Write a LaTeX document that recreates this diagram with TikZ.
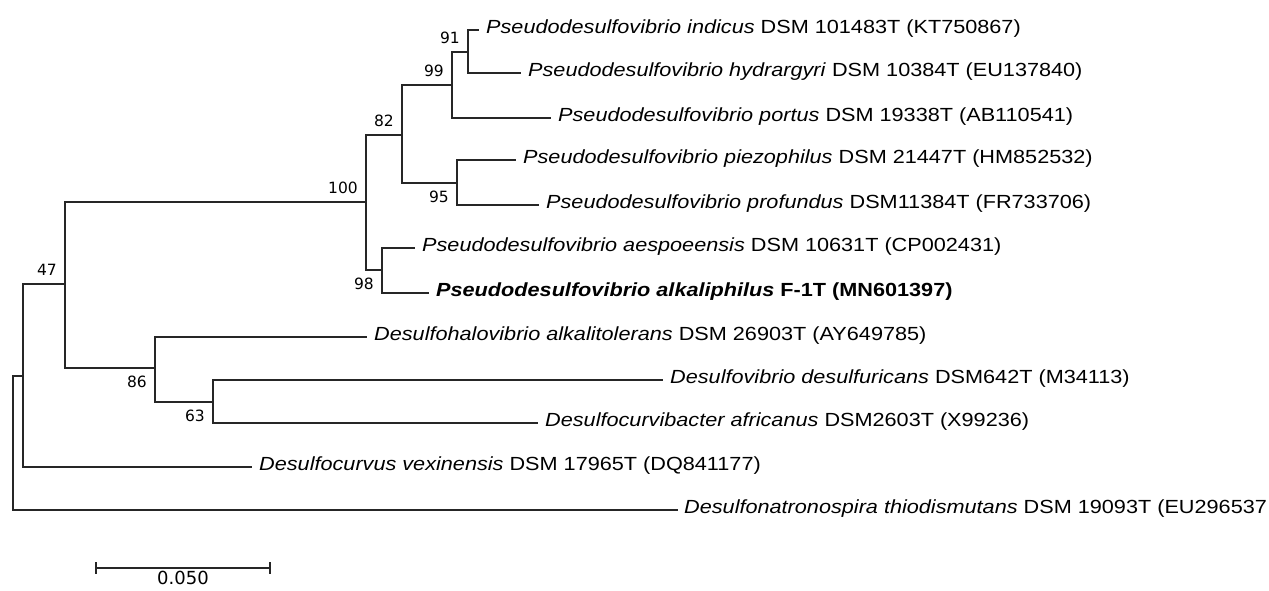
\documentclass[tikz,border=0pt]{standalone}
\usepackage{fontspec}
\setmainfont{Liberation Sans}[FakeStretch=1.14]
\newfontfamily\bootfont{DejaVu Sans}
\usetikzlibrary{positioning}
\tikzset{leaf/.style ={anchor=west, inner sep=0pt, inner xsep=7pt, text height=10pt, text depth=4pt, font=\fontsize{19}{19}\selectfont}}
\tikzset{boot/.style ={inner sep=2pt, font=\bootfont\fontsize{15.5}{15.5}\selectfont}}
\tikzset{scalelab/.style ={inner sep=1pt, font=\bootfont\fontsize{18}{18}\selectfont}}
\tikzset{branch/.style ={line width=1.3pt, black!85}}

\begin{document}
\begin{tikzpicture}[x=1pt,y=-1pt]
\useasboundingbox (0,0) rectangle (1269,590);
% leaves
\node[leaf] (indicus) at (479,30) {\textit{Pseudodesulfovibrio indicus} DSM 101483T (KT750867)};
\node[leaf] (hydrargyri) at (521,73) {\textit{Pseudodesulfovibrio hydrargyri} DSM 10384T (EU137840)};
\node[leaf] (portus) at (551,118) {\textit{Pseudodesulfovibrio portus} DSM 19338T (AB110541)};
\node[leaf] (piezophilus) at (516,160) {\textit{Pseudodesulfovibrio piezophilus} DSM 21447T (HM852532)};
\node[leaf] (profundus) at (539,205) {\textit{Pseudodesulfovibrio profundus} DSM11384T (FR733706)};
\node[leaf] (aespoeensis) at (415,248) {\textit{Pseudodesulfovibrio aespoeensis} DSM 10631T (CP002431)};
\node[leaf] (alkaliphilus) at (429,293) {\textbf{\textit{Pseudodesulfovibrio alkaliphilus} F-1T (MN601397)}};
\node[leaf] (alkalitolerans) at (367,337) {\textit{Desulfohalovibrio alkalitolerans} DSM 26903T (AY649785)};
\node[leaf] (desulfuricans) at (663,380) {\textit{Desulfovibrio desulfuricans} DSM642T (M34113)};
\node[leaf] (africanus) at (538,423) {\textit{Desulfocurvibacter africanus} DSM2603T (X99236)};
\node[leaf] (vexinensis) at (252,467) {\textit{Desulfocurvus vexinensis} DSM 17965T (DQ841177)};
\node[leaf, inner xsep=6pt] (thiodismutans) at (678,510) {\textit{Desulfonatronospira thiodismutans} DSM 19093T (EU296537};
% inner nodes
\coordinate (n91) at (468,52);
\coordinate (n99) at (452,85);
\coordinate (n95) at (457,183);
\coordinate (n82) at (402,135);
\coordinate (n98) at (382,270);
\coordinate (n100) at (366,202);
\coordinate (n63) at (213,402);
\coordinate (n86) at (155,368);
\coordinate (n47) at (65,284);
\coordinate (nvex) at (23,376);
\coordinate (root) at (13,443);
% bootstrap values
\node[boot, above left=6pt and 6pt of n91] (b91) {91};
\node[boot, above left=6pt and 6pt of n99] (b99) {99};
\node[boot, above left=6pt and 6pt of n82] (b82) {82};
\node[boot, below left=6pt and 6pt of n95] (b95) {95};
\node[boot, below left=6pt and 6pt of n98] (b98) {98};
\node[boot, above left=6pt and 6pt of n100] (b100) {100};
\node[boot, below left=6pt and 6pt of n63] (b63) {63};
\node[boot, below left=6pt and 6pt of n86] (b86) {86};
\node[boot, above left=6pt and 6pt of n47] (b47) {47};
% branches
\draw[branch] (n91) |- (indicus);
\draw[branch] (n91) |- (hydrargyri);
\draw[branch] (n99) |- (n91);
\draw[branch] (n99) |- (portus);
\draw[branch] (n95) |- (piezophilus);
\draw[branch] (n95) |- (profundus);
\draw[branch] (n82) |- (n99);
\draw[branch] (n82) |- (n95);
\draw[branch] (n98) |- (aespoeensis);
\draw[branch] (n98) |- (alkaliphilus);
\draw[branch] (n100) |- (n82);
\draw[branch] (n100) |- (n98);
\draw[branch] (n63) |- (desulfuricans);
\draw[branch] (n63) |- (africanus);
\draw[branch] (n86) |- (alkalitolerans);
\draw[branch] (n86) |- (n63);
\draw[branch] (n47) |- (n100);
\draw[branch] (n47) |- (n86);
\draw[branch] (nvex) |- (n47);
\draw[branch] (nvex) |- (vexinensis);
\draw[branch] (root) |- (nvex);
\draw[branch] (root) |- (thiodismutans);
% scale bar
\coordinate (sbl) at (96,568);
\coordinate (sbr) at (270,568);
\coordinate (sbm) at (183,568);
\draw[branch] (sbl) -- (sbr);
\draw[branch] ([yshift=6pt]sbl) -- ([yshift=-6pt]sbl);
\draw[branch] ([yshift=6pt]sbr) -- ([yshift=-6pt]sbr);
\node[scalelab, below=2pt of sbm] (sblab) {0.050};
\end{tikzpicture}
\end{document}
